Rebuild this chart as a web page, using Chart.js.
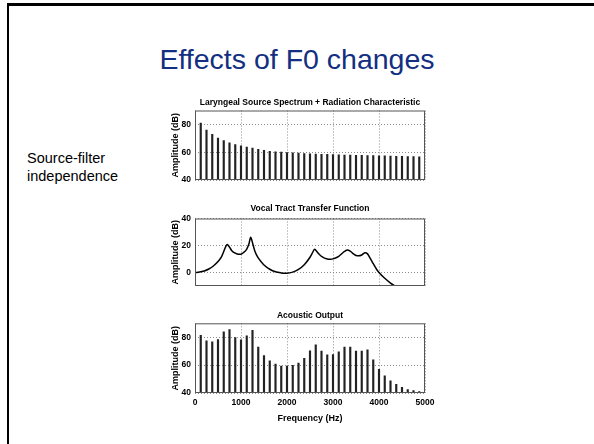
<!DOCTYPE html>
<html lang="en">
<head>
  <meta charset="UTF-8">
  <title>Effects of F0 changes</title>
  <script src="https://cdn.jsdelivr.net/npm/chart.js@4/dist/chart.umd.min.js"></script>
  <style>
    body {
      margin: 0;
      background: #fff;
      font-family: 'Liberation Sans', Arial, sans-serif;
    }
    .slide {
      position: relative;
      width: 594px;
      height: 444px;
      overflow: hidden;
    }
    .frame {
      position: absolute;
      left: 7px;
      top: 3px;
      right: -10px;
      bottom: -10px;
      border-top: 3px solid #000;
      border-left: 2px solid #000;
    }
    h1 {
      position: absolute;
      left: 0;
      top: 42px;
      width: 594px;
      margin: 0;
      text-align: center;
      font-weight: normal;
      font-size: 28.5px;
      line-height: 34px;
      color: #132f82;
    }
    .side {
      position: absolute;
      left: 27px;
      top: 150px;
      font-size: 14.5px;
      line-height: 17.5px;
      color: #000;
    }
    canvas {
      position: absolute;
      left: 150px;
    }
  </style>
</head>
<body>
<div class="slide">
  <div class="frame"></div>
  <h1>Effects of F0 changes</h1>
  <div class="side">Source-filter<br>independence</div>
  <canvas id="source" width="320" height="90" style="top:96px"></canvas>
  <canvas id="filter" width="320" height="91" style="top:201px"></canvas>
  <canvas id="output" width="320" height="116" style="top:308px"></canvas>
</div>

<script>
  // harmonics of F0 = 125 Hz
  const harmonicsHz = [125, 250, 375, 500, 625, 750, 875, 1000, 1125, 1250,
    1375, 1500, 1625, 1750, 1875, 2000, 2125, 2250, 2375, 2500,
    2625, 2750, 2875, 3000, 3125, 3250, 3375, 3500, 3625, 3750,
    3875, 4000, 4125, 4250, 4375, 4500, 4625, 4750, 4875];

  const sourceDb = [81, 76, 72.9, 70.2, 68.3, 66.7, 65.5, 64.5, 63.6, 62.9,
    62.1, 61.4, 60.7, 60.2, 60, 59.8, 59.5, 59.3, 59, 58.8,
    58.6, 58.5, 58.4, 58.2, 58.1, 58, 57.9, 57.8, 57.7, 57.6,
    57.5, 57.4, 57.3, 57.2, 57.1, 57, 56.9, 56.8, 56.7];

  const outputDb = [81.4, 77.4, 76.7, 78.3, 83.8, 85.5, 79.8, 78.1, 81, 85,
    72.9, 66.9, 63.1, 60.7, 59.3, 59.3, 59.8, 61.4, 64.8, 70.3,
    74.5, 70, 67.4, 67.6, 69.5, 72.9, 72.9, 70, 70, 71,
    63.8, 56.9, 52.4, 48.8, 46.2, 44, 42.4, 41.7, 41];

  // vocal tract transfer function
  const tractHz = [0, 100, 200, 300, 400, 500, 575, 625, 675, 700,
    725, 750, 800, 875, 950, 1000, 1050, 1125, 1175, 1210,
    1250, 1300, 1375, 1450, 1500, 1625, 1750, 1875, 1950, 2000,
    2125, 2250, 2375, 2500, 2560, 2600, 2625, 2700, 2750, 2875,
    2950, 3000, 3125, 3250, 3310, 3375, 3450, 3500, 3560, 3625,
    3700, 3750, 3800, 3875, 3950, 4000, 4125, 4250, 4350];

  const tractDb = [0, 0.3, 1.1, 2.6, 4.8, 8.1, 11.5, 15.5, 19.8, 20.8,
    20, 18.8, 16.2, 14.3, 13.5, 13.6, 14.6, 17.4, 21.5, 26.2,
    22.1, 16, 10.8, 7.5, 5.5, 2.4, 0.5, -0.3, -0.5, -0.5,
    0.3, 2.3, 5.8, 11.3, 15, 17.3, 16.5, 13.5, 12, 10,
    9.8, 10.1, 12, 15.6, 16.7, 15.8, 13.6, 12.6, 12.4, 13,
    14.6, 13.8, 11, 6.5, 2.2, 0, -4.3, -7.8, -10];

  const freqTicks = [0, 1000, 2000, 3000, 4000, 5000];
  const sourceTicks = [40, 60, 80];
  const filterTicks = [0, 20, 40];
  const outputTicks = [40, 60, 80];

  Chart.defaults.font.family = "'Liberation Sans', Arial, sans-serif";
  Chart.defaults.font.size = 8.5;
  Chart.defaults.font.weight = 'bold';
  Chart.defaults.color = '#000';

  // full box round the plot area, like matlab axes
  const boxPlugin = {
    id: 'box',
    afterDraw(chart) {
      const { ctx, chartArea: a } = chart;
      ctx.save();
      ctx.strokeStyle = '#555';
      ctx.lineWidth = 1;
      ctx.strokeRect(a.left + 0.5, a.top + 0.5, a.width - 1, a.height - 1);
      ctx.restore();
    }
  };

  function xScale(withLabels) {
    return {
      type: 'linear',
      min: 0,
      max: 5000,
      offset: false,
      afterBuildTicks: ax => { ax.ticks = freqTicks.map(v => ({ value: v })); },
      grid: { color: '#8c8c8c', drawTicks: false, offset: false },
      border: { display: false, dash: [1, 2] },
      ticks: { display: withLabels, padding: 4.5, maxRotation: 0, autoSkip: false, callback: v => String(v) },
      title: { display: withLabels, text: 'Frequency (Hz)', font: { size: 9 }, padding: { top: 1, bottom: 0 } }
    };
  }

  function yScale(min, max, tickVals) {
    return {
      min: min,
      max: max,
      afterBuildTicks: ax => { ax.ticks = tickVals.map(v => ({ value: v })); },
      afterFit: ax => { ax.width = 45; ax.paddingTop = 0; ax.paddingBottom = 0; },
      grid: { color: '#8c8c8c', drawTicks: false },
      border: { display: false, dash: [1, 2] },
      ticks: { padding: 4, callback: v => String(v) },
      title: { display: true, text: 'Amplitude (dB)', font: { size: 9 }, padding: { top: 20, bottom: 0 } }
    };
  }

  // empty right axis, same width as the left one, so the title centres on the plot
  const spacer = {
    position: 'right',
    min: 0,
    max: 1,
    grid: { display: false },
    border: { display: false },
    ticks: { display: false },
    afterFit: ax => { ax.width = 45; ax.paddingTop = 0; ax.paddingBottom = 0; }
  };

  function baseOptions(title, titlePad, bottomPad) {
    return {
      responsive: false,
      animation: false,
      layout: { padding: { left: 0, right: 0, top: 0, bottom: bottomPad } },
      plugins: {
        legend: { display: false },
        tooltip: { enabled: false },
        title: { display: true, text: title, padding: titlePad, font: { size: 8.5, weight: 'bold' } }
      }
    };
  }

  const srcOpts = baseOptions('Laryngeal Source Spectrum + Radiation Characteristic', { top: 2, bottom: 2.3 }, 6);
  srcOpts.scales = { x: xScale(false), y: yScale(40, 90, sourceTicks), yR: spacer };
  new Chart(document.getElementById('source'), {
    type: 'bar',
    data: {
      datasets: [{
        data: harmonicsHz.map((f, i) => ({ x: f, y: sourceDb[i] })),
        backgroundColor: '#222',
        barThickness: 1.5,
        base: 40
      }]
    },
    options: srcOpts,
    plugins: [boxPlugin]
  });

  const filtOpts = baseOptions('Vocal Tract Transfer Function', { top: 2.5, bottom: 4.8 }, 6);
  filtOpts.scales = { x: xScale(false), y: yScale(-10, 40, filterTicks), yR: spacer };
  new Chart(document.getElementById('filter'), {
    type: 'line',
    data: {
      datasets: [{
        data: tractHz.map((f, i) => ({ x: f, y: tractDb[i] })),
        borderColor: '#000',
        borderWidth: 1.5,
        pointRadius: 0,
        cubicInterpolationMode: 'monotone'
      }]
    },
    options: filtOpts,
    plugins: [boxPlugin]
  });

  const outOpts = baseOptions('Acoustic Output', { top: 2.4, bottom: 2.7 }, 0);
  outOpts.scales = { x: xScale(true), y: yScale(40, 90, outputTicks), yR: spacer };
  new Chart(document.getElementById('output'), {
    type: 'bar',
    data: {
      datasets: [{
        data: harmonicsHz.map((f, i) => ({ x: f, y: outputDb[i] })),
        backgroundColor: '#222',
        barThickness: 1.5,
        base: 40
      }]
    },
    options: outOpts,
    plugins: [boxPlugin]
  });
</script>
</body>
</html>
